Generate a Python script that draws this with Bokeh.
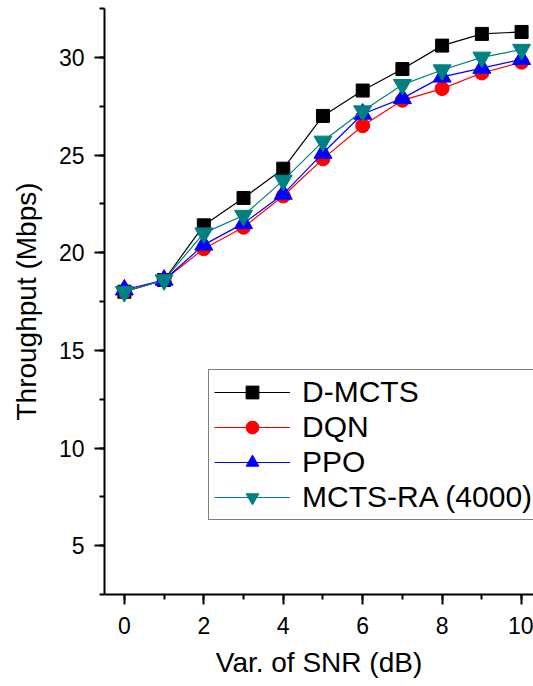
from bokeh.plotting import figure
from bokeh.models import SingleIntervalTicker, Range1d
from bokeh.embed import file_html
from bokeh.resources import INLINE

snr = [0, 1, 2, 3, 4, 5, 6, 7, 8, 9, 10]
d_mcts = [18.0, 18.6, 21.4, 22.8, 24.3, 27.0, 28.3, 29.4, 30.6, 31.2, 31.3]
dqn = [18.0, 18.6, 20.2, 21.3, 22.9, 24.8, 26.5, 27.8, 28.4, 29.2, 29.75]
ppo = [18.1, 18.6, 20.4, 21.5, 23.0, 25.1, 27.1, 27.9, 29.0, 29.45, 29.9]
mcts_ra = [18.0, 18.6, 21.0, 21.9, 23.7, 25.7, 27.25, 28.6, 29.35, 30.0, 30.4]

FONT = "Liberation Sans"

p = figure(width=533, height=686, output_backend="svg", toolbar_location=None,
           x_range=Range1d(-0.5, 10.3), y_range=Range1d(2.5, 32.5),
           min_border_left=104, min_border_right=0, min_border_top=8,
           min_border_bottom=92)
p.outline_line_color = None
p.xgrid.visible = False
p.ygrid.visible = False
p.background_fill_color = "white"
p.border_fill_color = "white"

# series
p.line(snr, d_mcts, color="black", line_width=1.2, legend_label="D-MCTS")
p.scatter(snr, d_mcts, marker="square", size=13, color="black", legend_label="D-MCTS")
p.line(snr, dqn, color="#FF0000", line_width=1.2, legend_label="DQN")
p.scatter(snr, dqn, marker="circle", size=14, color="#FF0000", legend_label="DQN")
p.line(snr, ppo, color="#0000FF", line_width=1.2, legend_label="PPO")
p.scatter(snr, ppo, marker="triangle", size=18, color="#0000FF", legend_label="PPO")
p.line(snr, mcts_ra, color="#008080", line_width=1.2, legend_label="MCTS-RA (4000)")
p.scatter(snr, mcts_ra, marker="inverted_triangle", size=18, color="#008080",
          legend_label="MCTS-RA (4000)")

# axes
p.xaxis.ticker = SingleIntervalTicker(interval=2, num_minor_ticks=2)
p.yaxis.ticker = SingleIntervalTicker(interval=5, num_minor_ticks=2)
p.xaxis.axis_label = "Var. of SNR (dB)"
p.yaxis.axis_label = "Throughput (Mbps)"
for ax in (p.xaxis, p.yaxis):
    ax.axis_line_width = 2
    ax.axis_line_color = "black"
    ax.major_tick_line_width = 2
    ax.minor_tick_line_width = 2
    ax.major_tick_line_color = "black"
    ax.minor_tick_line_color = "black"
    ax.major_tick_out = 10
    ax.major_tick_in = 0
    ax.minor_tick_out = 5
    ax.minor_tick_in = 0
    ax.major_label_text_font = FONT
    ax.major_label_text_font_size = "23px"
    ax.major_label_text_color = "black"
    ax.axis_label_text_font = FONT
    ax.axis_label_text_font_size = "28px"
    ax.axis_label_text_font_style = "normal"
    ax.axis_label_text_color = "black"
p.xaxis.major_label_standoff = 12
p.xaxis.axis_label_standoff = 10
p.yaxis.major_label_standoff = 10
p.yaxis.axis_label_standoff = 14

# legend
lg = p.legend[0]
lg.location = (104, 74)
lg.label_text_font = FONT
lg.label_text_font_size = "30px"
lg.label_text_color = "black"
lg.glyph_width = 76
lg.glyph_height = 32
lg.label_height = 32
lg.spacing = 1
lg.padding = 5
lg.margin = 0
lg.label_standoff = 12
lg.border_line_color = "black"
lg.border_line_width = 1
lg.background_fill_alpha = 1.0

open("out.html", "w").write(file_html(p, INLINE))
